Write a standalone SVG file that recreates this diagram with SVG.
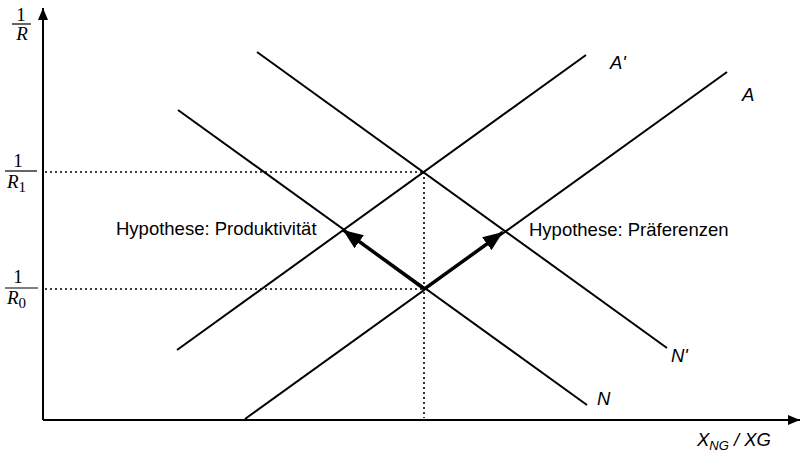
<svg xmlns="http://www.w3.org/2000/svg" width="801" height="458" viewBox="0 0 801 458">
<defs>
<marker id="ah" markerUnits="userSpaceOnUse" markerWidth="22" markerHeight="16" refX="20" refY="8" orient="auto"><path d="M0,0 L20,8 L0,16 Z" fill="#000"/></marker>
<marker id="axh" markerUnits="userSpaceOnUse" markerWidth="12" markerHeight="10" refX="12" refY="5" orient="auto"><path d="M0,0 L12,5 L0,10 Z" fill="#000"/></marker>
</defs>
<style>
.ax{stroke:#000;stroke-width:2;fill:none}
.ln{stroke:#000;stroke-width:2;fill:none}
.dot{stroke:#000;stroke-width:1.6;stroke-dasharray:2 3;fill:none}
.arr{stroke:#000;stroke-width:3;fill:none}
.lab{font-family:"Liberation Sans",Arial,sans-serif;font-size:18.5px;fill:#000}
.it{font-style:italic}
.frac{font-family:"Liberation Serif","Times New Roman",serif;font-size:19px;fill:#000}
.bar{stroke:#000;stroke-width:1.2}
</style>
<g id="axes">
<line class="ax" x1="43" y1="420" x2="43" y2="8" marker-end="url(#axh)"/>
<line class="ax" x1="43" y1="420" x2="800" y2="420" marker-end="url(#axh)"/>
<text class="frac" x="21" y="21" text-anchor="middle">1</text>
<line class="bar" x1="12" y1="24" x2="31" y2="24"/>
<text class="frac it" x="22" y="40" text-anchor="middle">R</text>
<text class="frac" x="18" y="167" text-anchor="middle">1</text>
<line class="bar" x1="5" y1="171" x2="37" y2="171"/>
<text class="frac" x="7" y="188"><tspan font-style="italic">R</tspan><tspan font-size="15" dy="4">1</tspan></text>
<text class="frac" x="18" y="283" text-anchor="middle">1</text>
<line class="bar" x1="5" y1="288" x2="38" y2="288"/>
<text class="frac" x="7" y="304"><tspan font-style="italic">R</tspan><tspan font-size="15" dy="4">0</tspan></text>
<text class="lab it" x="697" y="446">X<tspan font-size="13" dy="4">NG</tspan><tspan dy="-4"> / XG</tspan></text>
</g>
<g id="guides">
<line class="dot" x1="45" y1="172" x2="424" y2="172"/>
<line class="dot" x1="45" y1="289" x2="424" y2="289"/>
<line class="dot" x1="424" y1="172" x2="424" y2="418"/>
</g>
<g id="curve-A-prime">
<line class="ln" x1="177" y1="350" x2="586" y2="55"/>
<text class="lab it" x="610" y="69">A'</text>
</g>
<g id="curve-A">
<line class="ln" x1="245" y1="419" x2="727" y2="72"/>
<text class="lab it" x="742" y="101">A</text>
</g>
<g id="curve-N-prime">
<line class="ln" x1="257" y1="52" x2="667" y2="348"/>
<text class="lab it" x="671" y="362">N'</text>
</g>
<g id="curve-N">
<line class="ln" x1="178" y1="110" x2="587" y2="405"/>
<text class="lab it" x="597" y="405">N</text>
</g>
<g id="connectors">
<line class="arr" x1="424" y1="289" x2="343" y2="230" marker-end="url(#ah)"/>
<line class="arr" x1="424" y1="289" x2="503" y2="232" marker-end="url(#ah)"/>
</g>
<g id="labels">
<text class="lab" x="116" y="235">Hypothese: Produktivität</text>
<text class="lab" x="529" y="236">Hypothese: Präferenzen</text>
</g>
</svg>
